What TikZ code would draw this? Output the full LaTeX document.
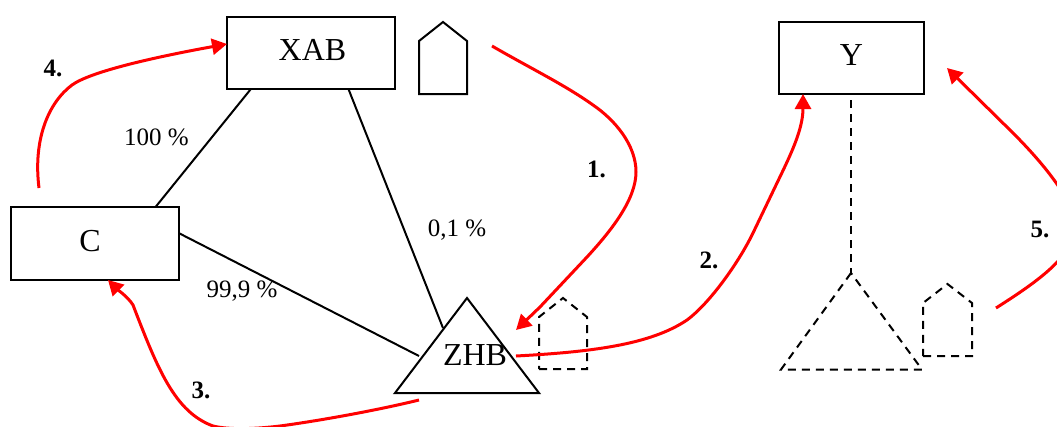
\documentclass[tikz,border=0pt]{standalone}
\usepackage{fontspec}
\setmainfont{Liberation Serif}
\usetikzlibrary{arrows.meta}
\tikzset{
  box/.style={draw=black,line width=2pt,rectangle,inner sep=0pt,outer sep=0pt,minimum height=72.5pt,font=\fontsize{32}{36}\selectfont},
  bigtext/.style={inner sep=0pt,font=\fontsize{32}{36}\selectfont},
  pct/.style={inner sep=0pt,font=\fontsize{25}{30}\selectfont,text=black},
  num/.style={inner sep=0pt,font=\fontsize{25}{30}\selectfont\bfseries},
  link/.style={draw=black,line width=2pt},
  solidshape/.style={draw=black,line width=2pt,line join=miter},
  dashshape/.style={draw=black,line width=2pt,dash pattern=on 8pt off 6pt},
  redarrow/.style={draw=red,line width=3pt,-{Triangle[length=15pt,width=16pt]}}
}
\begin{document}
\begin{tikzpicture}[x=1pt,y=-1pt]
\useasboundingbox (0,0) rectangle (1057,426);
% boxes
\node[box,minimum width=168pt] (xab) at (311,53) {\raisebox{7pt}{\hspace*{3pt}XAB}};
\node[box,minimum width=145pt] (y) at (851.5,58) {\raisebox{5pt}{Y}};
\node[box,minimum width=168pt] (c) at (95,243.5) {\raisebox{4.5pt}{\hspace*{-10pt}C}};
% triangle ZHB
\coordinate (ta) at (467,298);
\coordinate (tl) at (395,393);
\coordinate (tr) at (539,393);
\draw[solidshape] (ta) -- (tl) -- (tr) -- cycle;
\node[bigtext] (zhb) at (475,355) {ZHB};
% houses
\coordinate (h1a) at (419,94);
\coordinate (h1b) at (467,94);
\coordinate (h1c) at (467,41);
\coordinate (h1d) at (443,22);
\coordinate (h1e) at (419,41);
\draw[solidshape] (h1a) -- (h1b) -- (h1c) -- (h1d) -- (h1e) -- cycle;
\coordinate (h2a) at (539,369);
\coordinate (h2b) at (587,369);
\coordinate (h2c) at (587,317);
\coordinate (h2d) at (563,298);
\coordinate (h2e) at (539,317);
\draw[dashshape] (h2a) -- (h2b) -- (h2c) -- (h2d) -- (h2e) -- cycle;
\coordinate (h3a) at (923,356);
\coordinate (h3b) at (972,356);
\coordinate (h3c) at (972,303);
\coordinate (h3d) at (947.5,284);
\coordinate (h3e) at (923,303);
\draw[dashshape] (h3a) -- (h3b) -- (h3c) -- (h3d) -- (h3e) -- cycle;
% dashed triangle
\coordinate (da) at (851,273);
\coordinate (dl) at (781,369.5);
\coordinate (dr) at (922,369.5);
\coordinate (ytop) at (851,100);
\draw[dashshape] (da) -- (dl) -- (dr) -- cycle;
\draw[dashshape] (ytop) -- (da);
% black links
\coordinate (zl) at (419,356);
\coordinate (zt) at (443,328);
\draw[link] (xab.211) -- (c.31);
\draw[link] (xab.-44.6) -- (zt);
\draw[link] (c.7.8) -- (zl);
% red arrows
\coordinate (r1s) at (492,46);
\coordinate (r1e) at (516,330);
\coordinate (r2s) at (516,356);
\coordinate (r2e) at (803,94);
\coordinate (r3s) at (419,400);
\coordinate (r3e) at (108,280);
\coordinate (r4s) at (39,188);
\coordinate (r4e) at (227,44);
\coordinate (r5s) at (996,308);
\coordinate (r5e) at (947,68);
\draw[redarrow] (r1s) .. controls (530,68) and (565,85) .. (593,105)
   .. controls (615,120) and (636,145) .. (636,172)
   .. controls (636,200) and (610,232) .. (587,257)
   -- (540,307) -- (r1e);
\draw[redarrow] (r2s) .. controls (590,352) and (650,345) .. (687,320)
   .. controls (710,303) and (739,262) .. (753,233)
   -- (777,183)
   .. controls (790,156) and (803,130) .. (r2e);
\draw[redarrow] (r3s) .. controls (370,412) and (310,422) .. (280,426)
   .. controls (255,429) and (230,430) .. (213,426)
   .. controls (175,412) and (158,370) .. (133,305)
   .. controls (128,297) and (118,290) .. (r3e);
\draw[redarrow] (r4s) .. controls (33,140) and (48,103) .. (72,85)
   .. controls (90,72) and (150,58) .. (r4e);
\draw[redarrow] (r5s) .. controls (1040,280) and (1075,255) .. (1075,225)
   .. controls (1075,205) and (1050,170) .. (1013,133) -- (r5e);
% labels
\node[pct] (l100) at (156.5,137.5) {100 \%};
\node[pct] (l01) at (457,230) {0,1 \%};
\node[pct] (l999) at (242,291) {99,9 \%};
\node[num] (n1) at (596.5,169.5) {1.};
\node[num] (n2) at (709,260.5) {2.};
\node[num] (n3) at (201,390.5) {3.};
\node[num] (n4) at (53,68.5) {4.};
\node[num] (n5) at (1040,229.5) {5.};
\end{tikzpicture}
\end{document}
